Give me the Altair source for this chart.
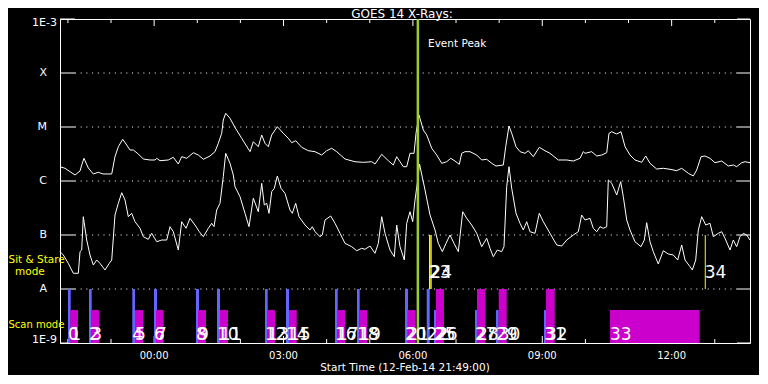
import altair as alt
import pandas as pd

# ---------------- data (hours from 13-Feb-14 00:00, log10 flux in W/m^2) ----------------
long_hours = [-2.183, -2.067, -1.835, -1.719, -1.680, -1.627, -1.527, -1.411, -1.295, -1.186,
              -0.984, -0.908, -0.831, -0.729, -0.637, -0.560, -0.483, -0.368, -0.252, -0.096,
              0.020, 0.059, 0.136, 0.328, 0.444, 0.560, 0.639, 0.755, 0.908, 1.024,
              1.140, 1.295, 1.411, 1.488, 1.566, 1.603, 1.659, 1.759, 1.875, 2.030,
              2.223, 2.299, 2.415, 2.494, 2.570, 2.647, 2.726, 2.856, 2.995, 3.111,
              3.190, 3.282, 3.421, 3.574, 3.730, 3.885, 4.001, 4.117, 4.233, 4.426,
              4.657, 4.850, 5.045, 5.121, 5.277, 5.430, 5.546, 5.624, 5.701, 5.777,
              5.856, 5.933, 6.026, 6.072, 6.141, 6.241, 6.320, 6.436, 6.552, 6.668,
              6.784, 6.877, 6.976, 7.076, 7.132, 7.208, 7.324, 7.480, 7.595, 7.711,
              7.827, 7.927, 8.096, 8.152, 8.228, 8.291, 8.391, 8.484, 8.599, 8.676,
              8.792, 8.931, 9.063, 9.179, 9.372, 9.566, 9.720, 9.875, 9.951, 9.991,
              10.146, 10.262, 10.378, 10.494, 10.547, 10.610, 10.726, 10.826, 10.919, 11.034,
              11.150, 11.306, 11.398, 11.498, 11.653, 11.806, 11.962, 12.117, 12.233, 12.386,
              12.502, 12.581, 12.681, 12.773, 12.889, 13.005, 13.161, 13.314, 13.430, 13.508,
              13.624, 13.701, 13.817]
long_log_flux = [-5.735, -5.765, -5.889, -5.815, -5.704, -5.580, -5.759, -5.870, -5.839, -5.870,
                 -5.870, -5.550, -5.365, -5.228, -5.333, -5.426, -5.426, -5.500, -5.593, -5.611,
                 -5.611, -5.580, -5.624, -5.611, -5.561, -5.685, -5.550, -5.580, -5.476, -5.519,
                 -5.598, -5.537, -5.457, -5.302, -5.117, -4.870, -4.746, -4.839, -5.009, -5.209,
                 -5.457, -5.272, -5.365, -5.148, -5.302, -5.365, -5.148, -4.994, -5.117, -5.209,
                 -5.291, -5.254, -5.376, -5.439, -5.457, -5.519, -5.439, -5.394, -5.457, -5.593,
                 -5.643, -5.654, -5.643, -5.685, -5.506, -5.624, -5.704, -5.550, -5.643, -5.735,
                 -5.735, -5.487, -5.487, -5.117, -4.778, -5.056, -5.148, -5.394, -5.519, -5.672,
                 -5.643, -5.580, -5.630, -5.691, -5.487, -5.457, -5.457, -5.519, -5.611, -5.598,
                 -5.672, -5.722, -5.704, -5.365, -4.981, -5.117, -5.365, -5.457, -5.487, -5.439,
                 -5.550, -5.376, -5.439, -5.487, -5.611, -5.611, -5.630, -5.580, -5.457, -5.487,
                 -5.457, -5.537, -5.519, -5.476, -5.117, -5.087, -5.130, -5.087, -5.365, -5.519,
                 -5.611, -5.654, -5.537, -5.672, -5.778, -5.765, -5.783, -5.809, -5.765, -5.857,
                 -5.907, -5.796, -5.550, -5.537, -5.580, -5.661, -5.630, -5.722, -5.704, -5.735,
                 -5.661, -5.643, -5.661]

short_hours = [-2.183, -2.107, -1.991, -1.875, -1.759, -1.719, -1.680, -1.643, -1.564, -1.488,
               -1.411, -1.332, -1.256, -1.140, -1.040, -0.984, -0.908, -0.831, -0.752, -0.676,
               -0.599, -0.521, -0.444, -0.328, -0.252, -0.136, -0.057, 0.059, 0.175, 0.291,
               0.368, 0.444, 0.560, 0.639, 0.739, 0.831, 0.947, 1.047, 1.140, 1.256,
               1.334, 1.388, 1.450, 1.527, 1.603, 1.659, 1.759, 1.835, 1.875, 1.991,
               2.107, 2.199, 2.299, 2.415, 2.494, 2.554, 2.610, 2.663, 2.726, 2.786,
               2.856, 2.941, 3.034, 3.150, 3.203, 3.282, 3.359, 3.498, 3.614, 3.667,
               3.730, 3.846, 3.899, 3.962, 4.094, 4.194, 4.310, 4.426, 4.581, 4.697,
               4.813, 4.889, 5.005, 5.121, 5.198, 5.277, 5.353, 5.469, 5.569, 5.624,
               5.701, 5.801, 5.856, 5.933, 5.995, 6.049, 6.102, 6.153, 6.281, 6.397,
               6.513, 6.589, 6.682, 6.768, 6.860, 6.953, 7.053, 7.155, 7.248, 7.363,
               7.480, 7.595, 7.711, 7.788, 7.864, 7.957, 8.059, 8.112, 8.175, 8.228,
               8.291, 8.391, 8.484, 8.560, 8.639, 8.715, 8.831, 8.931, 9.024, 9.179,
               9.335, 9.450, 9.566, 9.720, 9.835, 9.914, 9.991, 10.107, 10.183, 10.262,
               10.339, 10.415, 10.494, 10.531, 10.610, 10.726, 10.819, 10.879, 10.958, 11.034,
               11.150, 11.289, 11.366, 11.421, 11.498, 11.574, 11.690, 11.806, 11.922, 12.038,
               12.140, 12.233, 12.310, 12.426, 12.479, 12.558, 12.618, 12.697, 12.790, 12.889,
               12.966, 13.082, 13.161, 13.237, 13.353, 13.430, 13.508, 13.585, 13.662, 13.740,
               13.817]
short_log_flux = [-7.309, -7.370, -7.524, -7.709, -7.709, -7.309, -7.278, -6.661, -7.093, -7.370,
                  -7.556, -7.463, -7.524, -7.648, -7.524, -7.463, -6.630, -6.413, -6.217, -6.352,
                  -6.661, -6.598, -6.754, -6.876, -7.031, -7.080, -6.969, -7.124, -7.093, -7.093,
                  -6.846, -6.939, -7.278, -6.754, -6.876, -6.691, -6.815, -6.939, -7.031, -6.876,
                  -6.783, -6.846, -6.537, -6.413, -5.920, -5.487, -5.672, -5.889, -6.106, -6.291,
                  -6.598, -6.846, -6.320, -6.569, -6.043, -6.444, -6.413, -6.598, -6.198, -6.135,
                  -5.907, -6.135, -6.228, -6.537, -6.598, -6.413, -6.661, -6.815, -6.907, -6.846,
                  -6.939, -7.031, -7.000, -6.722, -6.648, -6.783, -6.969, -7.154, -7.217, -7.291,
                  -7.246, -7.265, -7.204, -7.339, -7.154, -6.661, -6.969, -7.278, -7.402, -6.815,
                  -7.217, -7.463, -6.783, -6.569, -6.754, -6.352, -6.043, -5.685, -6.167, -6.630,
                  -6.907, -7.154, -7.309, -7.154, -7.000, -7.154, -7.309, -6.569, -6.691, -6.815,
                  -6.969, -7.217, -7.061, -7.246, -7.402, -7.278, -7.309, -7.217, -6.106, -5.735,
                  -6.135, -6.598, -6.783, -6.907, -6.754, -6.939, -6.969, -6.598, -6.754, -6.969,
                  -7.185, -7.204, -7.093, -7.000, -6.939, -6.630, -6.722, -6.691, -6.876, -6.939,
                  -6.846, -6.876, -6.846, -5.981, -6.043, -6.259, -6.013, -6.291, -6.722, -6.907,
                  -7.124, -7.217, -7.093, -6.772, -7.124, -7.309, -7.537, -7.291, -7.352, -7.370,
                  -7.463, -7.185, -7.463, -7.587, -7.648, -7.463, -6.907, -6.661, -6.815, -6.783,
                  -7.031, -6.969, -6.939, -7.061, -7.278, -7.093, -7.217, -7.031, -6.969, -7.000,
                  -7.093]

# observations: id, kind, start hour, end hour, tall bar?
obs_id = [0, 1, 2, 3, 4, 5, 6, 7, 8, 9, 10, 11, 12, 13, 14, 15, 16, 17, 18, 19,
          20, 21, 22, 23, 24, 25, 26, 27, 28, 29, 30, 31, 32, 33, 34]
obs_kind = ["blue", "magenta"] * 11 + ["blue", "sitstare", "sitstare",
            "blue", "magenta", "blue", "magenta", "blue", "magenta", "blue", "magenta",
            "magenta", "sitstare"]
obs_start = [-1.998, -1.944, -1.511, -1.457, -0.507, -0.444, -0.003, 0.043, 0.970, 1.017,
             1.457, 1.527, 2.570, 2.624, 3.057, 3.127, 4.194, 4.240, 4.704, 4.757,
             5.817, 5.870, 6.320, 6.373, 6.405, 6.489, 6.536, 7.440, 7.486, 7.927,
             7.990, 9.040, 9.087, 10.571, 12.768]
obs_end = [-1.935, -1.766, -1.448, -1.272, -0.444, -0.259, 0.066, 0.221, 1.040, 1.202,
           1.527, 1.712, 2.633, 2.802, 3.127, 3.306, 4.256, 4.426, 4.766, 4.936,
           5.887, 6.065, 6.390, 6.405, 6.436, 6.536, 6.721, 7.486, 7.679, 7.990,
           8.175, 9.087, 9.288, 12.650, 12.791]
obs_tall = [True, False] * 11 + [True, True, True,
            False, True, False, True, False, True, False, True, False, True]

event_peak_hour = [6.115]

class_levels = [1e-3, 1e-4, 1e-5, 1e-6, 1e-7, 1e-8, 1e-9]
class_letters = ["X", "M", "C", "B", "A"]
class_letter_levels = [1e-4, 1e-5, 1e-6, 1e-7, 1e-8]
hour_ticks = list(range(-2, 14))
major_hours = [0, 3, 6, 9, 12]
major_labels = ["00:00", "03:00", "06:00", "09:00", "12:00"]

# ---------------- tables ----------------
curves = pd.concat([
    pd.DataFrame({"h": long_hours, "flux": [10 ** v for v in long_log_flux], "ch": "long"}),
    pd.DataFrame({"h": short_hours, "flux": [10 ** v for v in short_log_flux], "ch": "short"}),
])
colors = {"blue": "#6464ff", "magenta": "#cc00cc", "sitstare": "#ffff00"}
obs = pd.DataFrame({"id": obs_id, "kind": obs_kind, "start": obs_start, "end": obs_end, "tall": obs_tall})
obs["color"] = obs["kind"].map(colors)
obs["top"] = [1e-7 if k == "sitstare" else (1e-8 if t else 10 ** -8.39) for k, t in zip(obs_kind, obs_tall)]
obs["bottom"] = [1e-8 if k == "sitstare" else 1e-9 for k in obs_kind]
obs["label"] = obs["id"].astype(str)

grid_df = pd.DataFrame({"flux": class_letter_levels})
tick_df = pd.DataFrame({"flux": class_levels})
letters_df = pd.DataFrame({"flux": class_letter_levels, "t": class_letters})
hours_df = pd.DataFrame({"h": hour_ticks, "major": [h in major_hours for h in hour_ticks]})
xlab_df = pd.DataFrame({"h": major_hours, "t": major_labels})
peak_df = pd.DataFrame({"h": event_peak_hour})

W, H = 690, 324
xs = alt.Scale(domain=[-2.1833, 13.8167], nice=False, zero=False)
ys = alt.Scale(type="log", domain=[1e-9, 1e-3], nice=False)
FONT = "DejaVu Sans"

def X(f="h"):
    return alt.X(f"{f}:Q", scale=xs, axis=None)

def Y(f="flux"):
    return alt.Y(f"{f}:Q", scale=ys, axis=None)

grid = alt.Chart(grid_df).mark_rule(color="white", strokeDash=[1, 4.7]).encode(
    x=alt.value(15), x2=alt.value(W - 13), y=Y())
lticks = alt.Chart(tick_df).mark_rule(color="white").encode(x=alt.value(0), x2=alt.value(15), y=Y())
rticks = alt.Chart(tick_df).mark_rule(color="white").encode(x=alt.value(W - 13), x2=alt.value(W), y=Y())

minor = hours_df[~hours_df["major"]]
major = hours_df[hours_df["major"]]
top_minor = alt.Chart(minor).mark_rule(color="white").encode(x=X(), y=alt.value(0), y2=alt.value(4))
top_major = alt.Chart(major).mark_rule(color="white").encode(x=X(), y=alt.value(0), y2=alt.value(7))
bot_minor = alt.Chart(minor).mark_rule(color="white").encode(x=X(), y=alt.value(H), y2=alt.value(H - 4))
bot_major = alt.Chart(major).mark_rule(color="white").encode(x=X(), y=alt.value(H), y2=alt.value(H - 7))

lines = alt.Chart(curves).mark_line(color="white", strokeWidth=1).encode(
    x=X(), y=Y(), detail="ch:N")

bars = alt.Chart(obs).mark_rect().encode(
    x=X("start"), x2="end:Q", y=Y("top"), y2="bottom:Q",
    color=alt.Color("color:N", scale=None))

peak = alt.Chart(peak_df).mark_rule(color="#9acd32", strokeWidth=2.5).encode(
    x=X(), y=alt.value(0), y2=alt.value(H))

scan_labels = alt.Chart(obs[obs["kind"] != "sitstare"]).mark_text(
    color="white", font=FONT, fontSize=17, align="left", baseline="alphabetic").encode(
    x=X("start"), y=alt.value(321), text="label:N")
ss_labels = alt.Chart(obs[obs["kind"] == "sitstare"]).mark_text(
    color="white", font=FONT, fontSize=17, align="left", baseline="alphabetic").encode(
    x=X("start"), y=alt.value(259), text="label:N")

letters = alt.Chart(letters_df).mark_text(
    color="white", font=FONT, fontSize=11, align="right", baseline="middle").encode(
    x=alt.value(-13), y=Y(), text="t:N")
top_lab = alt.Chart(pd.DataFrame({"flux": [1e-3], "t": ["1E-3"]})).mark_text(
    color="white", font=FONT, fontSize=11, align="right", baseline="middle", dy=4).encode(
    x=alt.value(-3), y=Y(), text="t:N")
bot_lab = alt.Chart(pd.DataFrame({"flux": [1e-9], "t": ["1E-9"]})).mark_text(
    color="white", font=FONT, fontSize=11, align="right", baseline="middle", dy=-3).encode(
    x=alt.value(-3), y=Y(), text="t:N")

xlabels = alt.Chart(xlab_df).mark_text(
    color="white", font=FONT, fontSize=10, align="center", baseline="middle").encode(
    x=X(), y=alt.value(H + 12.5), text="t:N")

def static_text(txt, x, y, size, color="white", align="left", baseline="alphabetic"):
    return alt.Chart(pd.DataFrame({"t": [txt]})).mark_text(
        color=color, font=FONT, fontSize=size, align=align, baseline=baseline).encode(
        x=alt.value(x), y=alt.value(y), text="t:N")

title = static_text("GOES 14 X-Rays:", 342, -1.5, 12, align="center")
xtitle = static_text("Start Time (12-Feb-14 21:49:00)", 345, H + 25, 10.5, align="center", baseline="middle")
event = static_text("Event Peak", 368, 28, 10.5)
ss1 = static_text("Sit & Stare", -51.5, 244, 10.5, color="#ffff00")
ss2 = static_text("mode", -45, 256, 10.5, color="#ffff00")
scan = static_text("Scan mode", -51.5, 309, 10, color="#ffff00")

chart = alt.layer(
    grid, lticks, rticks, top_minor, top_major, bot_minor, bot_major,
    lines, bars, peak, scan_labels, ss_labels,
    letters, top_lab, bot_lab, xlabels, title, xtitle, event, ss1, ss2, scan,
).properties(
    width=W, height=H, background="black",
    padding={"left": 52, "top": 11, "right": 9, "bottom": 32},
    autosize=alt.AutoSizeParams(type="none"),
).configure_view(stroke="white", strokeWidth=1)

chart.save("out.html", embed_options={"renderer": "svg", "actions": False})
